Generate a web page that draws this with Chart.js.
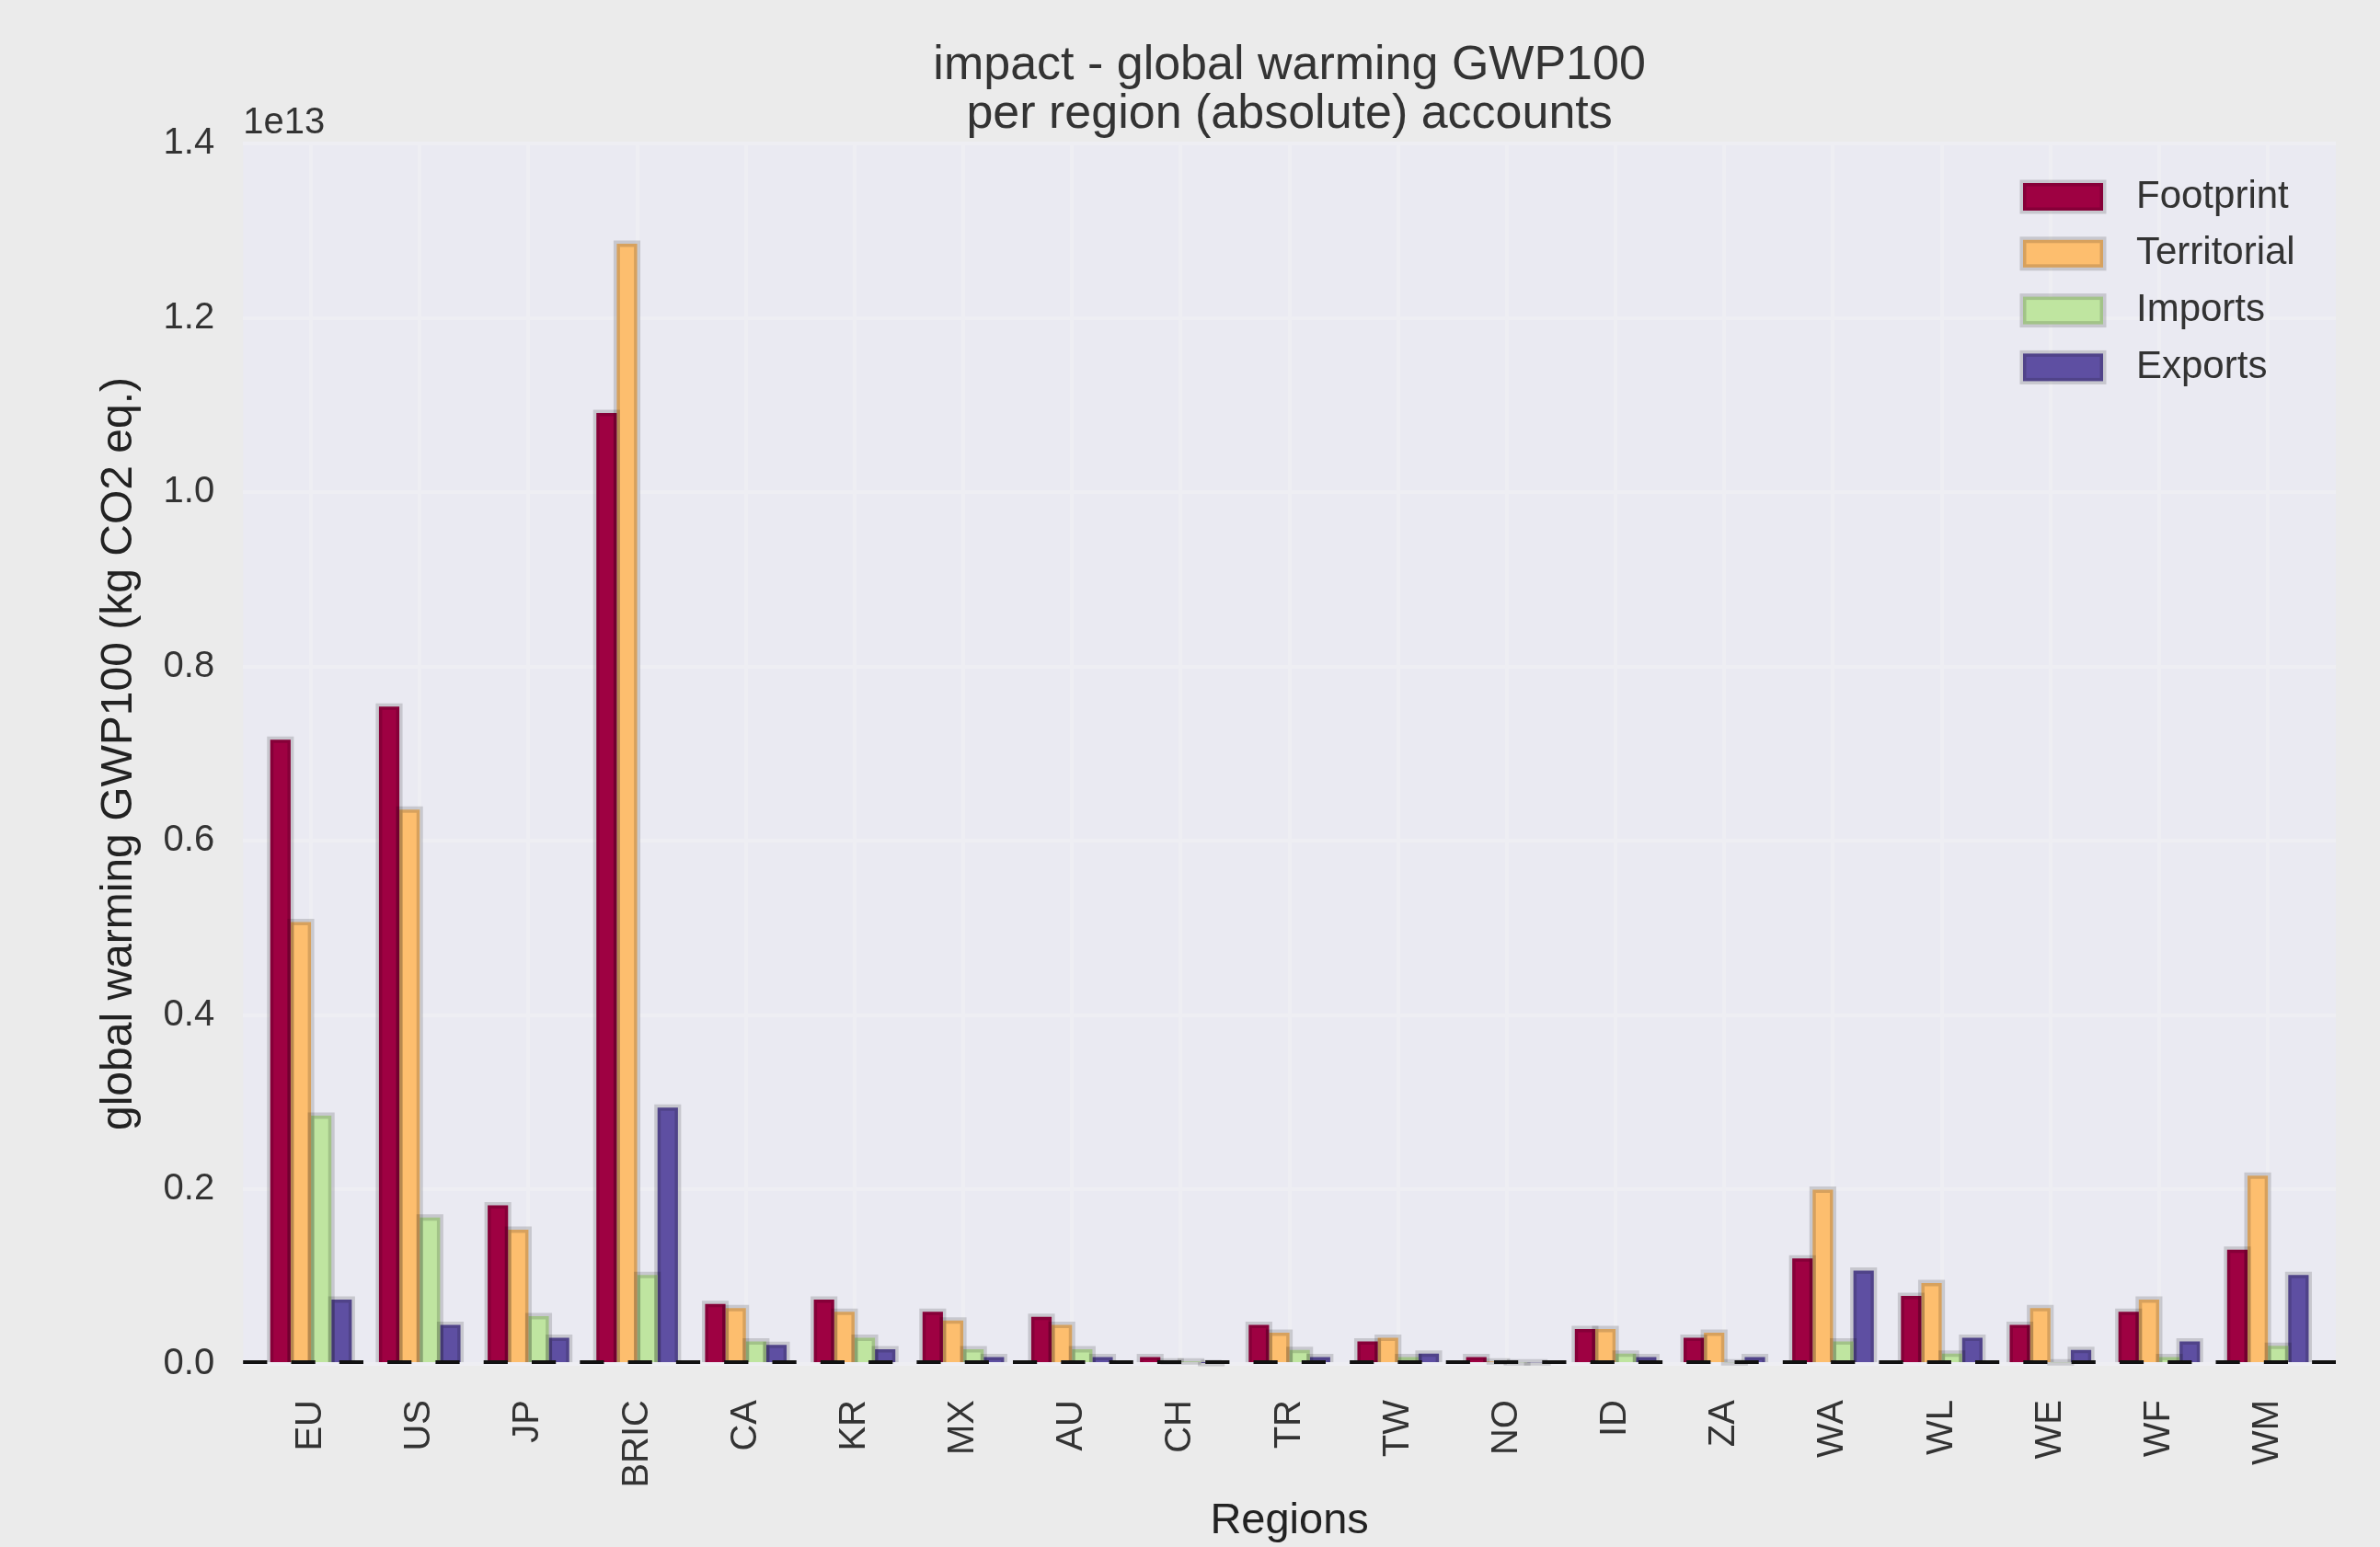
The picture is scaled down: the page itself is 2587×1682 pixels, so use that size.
<!DOCTYPE html>
<html>
<head>
<meta charset="utf-8">
<script src="https://cdn.jsdelivr.net/npm/chart.js@4/dist/chart.umd.min.js"></script>
<style>
  html, body { margin: 0; padding: 0; background: #ebebeb; }
  #wrap { width: 2587px; height: 1682px; }
</style>
</head>
<body>
<div id="wrap"><canvas id="myChart" width="2587" height="1682"></canvas></div>
<script>
// Regions on the x axis
const regions = ['EU', 'US', 'JP', 'BRIC', 'CA', 'KR', 'MX', 'AU', 'CH', 'TR',
                 'TW', 'NO', 'ID', 'ZA', 'WA', 'WL', 'WE', 'WF', 'WM'];

// Values in units of 1e13 kg CO2 eq.
const footprint   = [0.716, 0.754, 0.182, 1.091, 0.069, 0.074, 0.060, 0.054, 0.008, 0.045,
                     0.026, 0.008, 0.040, 0.030, 0.121, 0.078, 0.045, 0.060, 0.131];
const territorial = [0.507, 0.636, 0.154, 1.285, 0.064, 0.060, 0.050, 0.045, 0.003, 0.036,
                     0.030, 0.003, 0.040, 0.036, 0.200, 0.093, 0.064, 0.074, 0.216];
const imports     = [0.285, 0.168, 0.055, 0.102, 0.026, 0.030, 0.017, 0.017, 0.003, 0.016,
                     0.008, 0.002, 0.012, 0.002, 0.026, 0.012, 0.002, 0.008, 0.021];
const exports     = [0.074, 0.045, 0.030, 0.294, 0.022, 0.017, 0.008, 0.008, 0.001, 0.008,
                     0.012, 0.002, 0.008, 0.008, 0.107, 0.030, 0.016, 0.026, 0.102];

const seriesNames = ['Footprint', 'Territorial', 'Imports', 'Exports'];
const seriesColors = ['#9e0142', '#fdbe6e', '#bfe5a0', '#5e4fa2'];
const yTicks = [0, 0.2, 0.4, 0.6, 0.8, 1.0, 1.2, 1.4];
const scaleLabel = '1e13';

const titleLines = ['impact - global warming GWP100', 'per region (absolute) accounts'];
const yLabel = 'global warming GWP100 (kg CO2 eq.)';
const xLabel = 'Regions';

const FONT = "'Liberation Sans', Arial, sans-serif";
Chart.defaults.font.family = FONT;

const ctx = document.getElementById('myChart').getContext('2d');

// figure and axes backgrounds (seaborn darkgrid look)
const backgrounds = {
  id: 'backgrounds',
  beforeDraw(chart) {
    const { ctx, chartArea: a } = chart;
    ctx.save();
    ctx.fillStyle = '#ebebeb';
    ctx.fillRect(0, 0, chart.width, chart.height);
    ctx.fillStyle = '#eaeaf2';
    ctx.fillRect(a.left, a.top, a.right - a.left, a.bottom - a.top);
    ctx.restore();
  }
};

// translucent dark edge around each bar, like matplotlib's edgecolor
const barEdges = {
  id: 'barEdges',
  afterDatasetsDraw(chart) {
    const { ctx } = chart;
    ctx.save();
    ctx.strokeStyle = 'rgba(0,0,0,0.15)';
    ctx.lineWidth = 7;
    chart.data.datasets.forEach((ds, i) => {
      chart.getDatasetMeta(i).data.forEach(bar => {
        const left = bar.x - bar.width / 2;
        const right = bar.x + bar.width / 2;
        ctx.beginPath();
        ctx.moveTo(left, bar.base);
        ctx.lineTo(left, bar.y);
        ctx.lineTo(right, bar.y);
        ctx.lineTo(right, bar.base);
        ctx.stroke();
      });
    });
    // dashed black zero line
    const y0 = chart.scales.y.getPixelForValue(0) - 2;
    ctx.strokeStyle = '#111';
    ctx.lineWidth = 4;
    ctx.setLineDash([26.2, 26.1]);
    ctx.beginPath();
    ctx.moveTo(chart.chartArea.left, y0);
    ctx.lineTo(chart.chartArea.right, y0);
    ctx.stroke();
    ctx.restore();
  }
};

// title centred on the axes, legend inside the axes and the 1e13 offset text
const extras = {
  id: 'extras',
  afterDraw(chart) {
    const { ctx, chartArea: a } = chart;
    ctx.save();
    ctx.fillStyle = '#333';
    ctx.font = '52px ' + FONT;
    ctx.textAlign = 'center';
    ctx.textBaseline = 'alphabetic';
    const cx = (a.left + a.right) / 2;
    ctx.fillText(titleLines[0], cx, a.top - 70);
    ctx.fillText(titleLines[1], cx, a.top - 17);

    const x0 = a.right - 340;
    const y0 = a.top + 58;
    chart.data.datasets.forEach((ds, i) => {
      const cy = y0 + i * 61.8;
      ctx.fillStyle = ds.backgroundColor;
      ctx.fillRect(x0, cy - 15, 87, 30);
      ctx.strokeStyle = 'rgba(0,0,0,0.15)';
      ctx.lineWidth = 7;
      ctx.strokeRect(x0, cy - 15, 87, 30);
      ctx.fillStyle = '#333';
      ctx.font = '42px ' + FONT;
      ctx.textAlign = 'left';
      ctx.textBaseline = 'middle';
      ctx.fillText(ds.label, x0 + 123, cy);
    });

    ctx.fillStyle = '#333';
    ctx.font = '40px ' + FONT;
    ctx.textAlign = 'left';
    ctx.textBaseline = 'alphabetic';
    ctx.fillText(scaleLabel, a.left, a.top - 11);
    ctx.restore();
  }
};

const seriesData = [footprint, territorial, imports, exports];

const myChart = new Chart(ctx, {
  type: 'bar',
  data: {
    datasets: seriesData.map((vals, s) => ({
      label: seriesNames[s],
      data: vals.map((v, i) => ({ x: i, y: v })),
      backgroundColor: seriesColors[s],
      borderWidth: 0,
      categoryPercentage: 0.75,
      barPercentage: 1.0,
    })),
  },
  options: {
    responsive: false,
    animation: false,
    devicePixelRatio: 1,
    layout: { padding: { left: 0, right: 48, top: 156, bottom: 0 } },
    plugins: {
      legend: { display: false },
      tooltip: { enabled: false },
      title: { display: false },
    },
    scales: {
      x: {
        type: 'linear',
        min: -0.625,
        max: regions.length - 1 + 0.625,
        offset: false,
        afterBuildTicks: scale => {
          scale.ticks = regions.map((r, i) => ({ value: i }));
        },
        ticks: {
          autoSkip: false,
          minRotation: 90,
          maxRotation: 90,
          padding: 39,
          color: '#333',
          font: { size: 40 },
          callback: value => regions[value],
        },
        grid: { offset: false, color: '#eeeef3', lineWidth: 4, drawTicks: false },
        border: { display: false },
        title: {
          display: true,
          text: xLabel,
          color: '#222',
          font: { size: 47 },
          padding: { top: -31, bottom: 0 },
        },
      },
      y: {
        min: 0,
        max: 1.4,
        afterBuildTicks: scale => {
          scale.ticks = yTicks.map(v => ({ value: v }));
        },
        ticks: {
          padding: 31,
          color: '#333',
          font: { size: 40 },
          callback: value => value.toFixed(1),
        },
        grid: { color: '#eeeef3', lineWidth: 4, drawTicks: false },
        border: { display: false },
        title: {
          display: true,
          text: yLabel,
          color: '#222',
          font: { size: 48 },
          padding: { top: 101, bottom: -12 },
        },
      },
    },
  },
  plugins: [backgrounds, barEdges, extras],
});
</script>
</body>
</html>
